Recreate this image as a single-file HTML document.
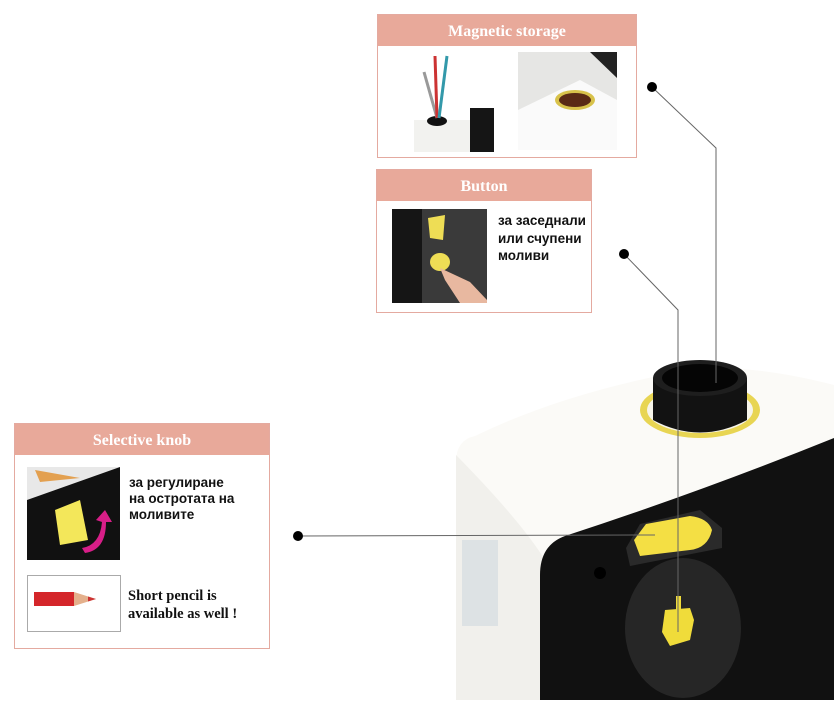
<!DOCTYPE html>
<html><head><meta charset="utf-8"><style>
body{margin:0;background:#fff}
.t{font-family:"Liberation Serif",serif;font-weight:bold;fill:#fff}
.c{font-family:"Liberation Sans","DejaVu Sans",sans-serif;font-weight:bold;font-size:13.5px;fill:#111}
</style></head><body>
<svg width="834" height="700" viewBox="0 0 834 700" xmlns="http://www.w3.org/2000/svg">
<!-- device -->
<path d="M475 436 Q456 440 456 462 L456 700 L834 700 L834 385 Q760 366 700 368 Q570 390 475 436Z" fill="#fbfaf7"/>
<path d="M456 455 L456 700 L545 700 L545 560 Q520 520 456 455Z" fill="#f1f0ec"/>
<path d="M565 536 Q540 545 540 575 L540 700 L834 700 L834 438 Q700 492 565 536Z" fill="#111"/>
<path d="M626 548 L640 524 L700 510 L722 528 L722 548 L630 566Z" fill="#2a2a2a"/>
<path d="M634 540 L646 524 L690 516 Q708 518 712 530 Q708 548 690 550 L640 556Z" fill="#f4df44"/>
<circle cx="600" cy="573" r="6" fill="#000"/>
<ellipse cx="683" cy="628" rx="58" ry="70" fill="#262626"/>
<path d="M665 610 L690 608 L694 620 L690 640 L670 646 L662 632Z" fill="#f0dc3a"/>
<rect x="676" y="596" width="5" height="14" fill="#f0dc3a"/>
<rect x="462" y="540" width="36" height="86" fill="#dde2e4"/>
<ellipse cx="700" cy="410" rx="60" ry="28" fill="#e8d553"/>
<ellipse cx="700" cy="410" rx="53" ry="23" fill="#f6f4ea"/>
<path d="M653 378 L653 420 Q700 445 747 420 L747 378Z" fill="#121212"/>
<ellipse cx="700" cy="378" rx="47" ry="18" fill="#1e1e1e"/>
<ellipse cx="700" cy="378" rx="38" ry="14" fill="#050505"/>
<!-- connectors -->
<g stroke="#666" stroke-width="1" fill="none">
<polyline points="652,87 716,148 716,383"/>
<polyline points="624,254 678,310 678,632"/>
<line x1="298" y1="536" x2="655" y2="535"/>
</g>
<circle cx="652" cy="87" r="5" fill="#000"/>
<circle cx="624" cy="254" r="5" fill="#000"/>
<circle cx="298" cy="536" r="5" fill="#000"/>
<!-- magnetic -->
<rect x="377.5" y="14.5" width="259" height="143" fill="#fff" stroke="#e4aaa0"/>
<rect x="378" y="15" width="258" height="31" fill="#e8a99a"/>
<text class="t" x="507" y="36" font-size="16" text-anchor="middle">Magnetic storage</text>
<rect x="414" y="120" width="78" height="32" fill="#f2f2ef"/>
<rect x="470" y="108" width="24" height="44" fill="#151515"/>
<ellipse cx="437" cy="121" rx="10" ry="5" fill="#111"/>
<line x1="424" y1="72" x2="437" y2="118" stroke="#999" stroke-width="3"/>
<line x1="435" y1="56" x2="437" y2="118" stroke="#c33" stroke-width="3"/>
<line x1="447" y1="56" x2="439" y2="118" stroke="#39a" stroke-width="3"/>
<rect x="518" y="52" width="99" height="98" fill="#e6e6e4"/>
<path d="M518 110 L580 80 L617 100 L617 150 L518 150Z" fill="#fafafa"/>
<path d="M590 52 L617 52 L617 78Z" fill="#222"/>
<ellipse cx="575" cy="100" rx="20" ry="10" fill="#d8c24a"/>
<ellipse cx="575" cy="100" rx="16" ry="7" fill="#5a2a15"/>
<!-- button -->
<rect x="376.5" y="169.5" width="215" height="143" fill="#fff" stroke="#e4aaa0"/>
<rect x="377" y="170" width="214" height="31" fill="#e8a99a"/>
<text class="t" x="484" y="191" font-size="16" text-anchor="middle">Button</text>
<rect x="392" y="209" width="95" height="94" fill="#3a3a3a"/>
<rect x="392" y="209" width="30" height="94" fill="#151515"/>
<path d="M428 218 L445 215 L443 240 L430 238Z" fill="#eedd55"/>
<ellipse cx="440" cy="262" rx="10" ry="9" fill="#eedd55"/>
<path d="M440 268 L470 282 L487 300 L487 303 L460 303 L445 280Z" fill="#e8b8a0"/>
<text class="c" x="498" y="225">за заседнали</text>
<text class="c" x="498" y="243">или счупени</text>
<text class="c" x="498" y="260">моливи</text>
<!-- selective -->
<rect x="14.5" y="423.5" width="255" height="225" fill="#fff" stroke="#e4aaa0"/>
<rect x="15" y="424" width="254" height="31" fill="#e8a99a"/>
<text class="t" x="142" y="445" font-size="16" text-anchor="middle">Selective knob</text>
<rect x="27" y="467" width="93" height="93" fill="#111"/>
<path d="M27 467 L120 467 L27 500Z" fill="#e8e8e8"/>
<path d="M35 470 L80 478 L40 482Z" fill="#e3a050"/>
<path d="M55 510 L80 500 L88 540 L60 545Z" fill="#f3e75a"/>
<path d="M82 548 Q100 545 102 522 L96 520 L105 510 L112 522 L106 522 Q106 550 85 553Z" fill="#d81e88"/>
<text class="c" x="129" y="487">за регулиране</text>
<text class="c" x="129" y="503">на остротата на</text>
<text class="c" x="129" y="519">моливите</text>
<rect x="27.5" y="575.5" width="93" height="56" fill="#fff" stroke="#aaa"/>
<rect x="34" y="592" width="40" height="14" fill="#d4262a"/>
<path d="M74 592 L96 599 L74 606Z" fill="#e4b08c"/>
<path d="M88 596.5 L96 599 L88 601.5Z" fill="#c33"/>
<text class="t" x="128" y="600" font-size="14.5" style="fill:#111">Short pencil is</text>
<text class="t" x="128" y="618" font-size="14.5" style="fill:#111">available as well !</text>
</svg>
</body></html>
